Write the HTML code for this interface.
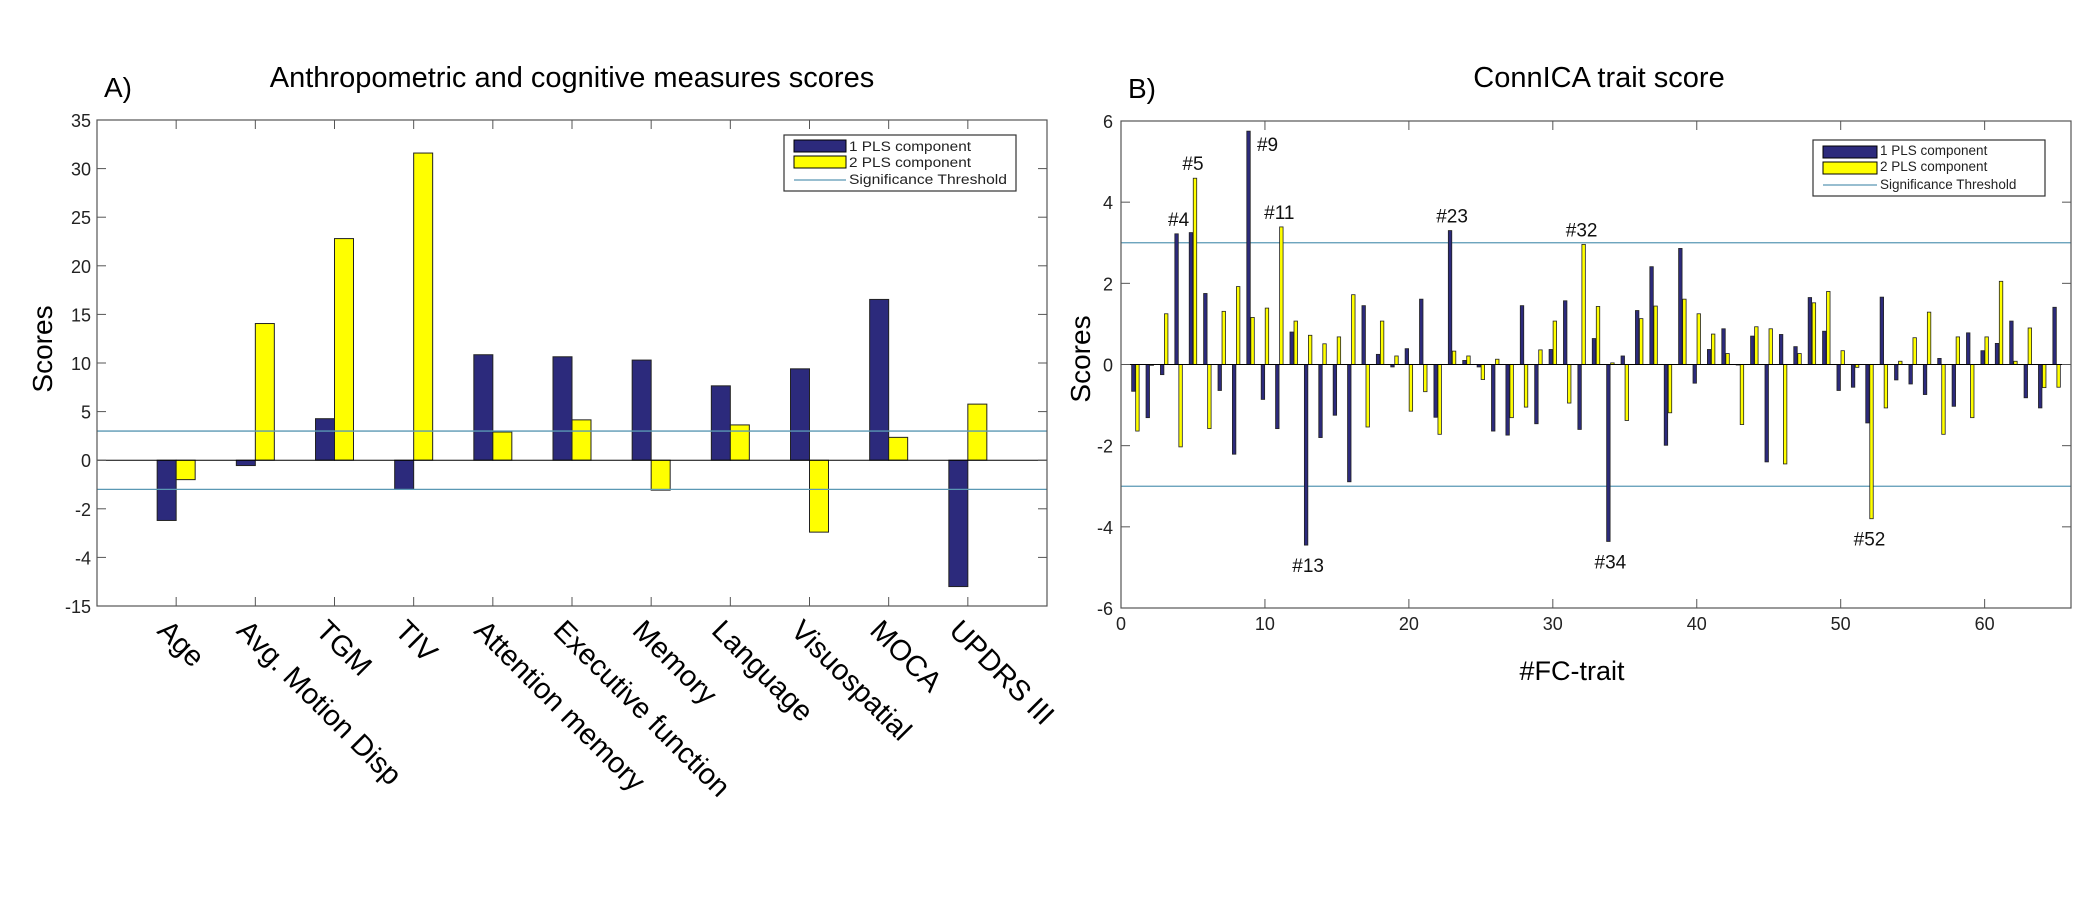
<!DOCTYPE html>
<html><head><meta charset="utf-8"><style>
html,body{margin:0;padding:0;background:#fff;}
svg{display:block;font-family:"Liberation Sans",sans-serif;}
</style></head><body>
<svg id="fig" width="2087" height="924" viewBox="0 0 2087 924" xmlns="http://www.w3.org/2000/svg">
<rect width="2087" height="924" fill="#fff"/>
<text x="104" y="97" font-size="28">A)</text>
<text x="572" y="87" font-size="29" text-anchor="middle">Anthropometric and cognitive measures scores</text>
<text x="1128" y="98" font-size="28">B)</text>
<text x="1599" y="87" font-size="29" text-anchor="middle">ConnICA trait score</text>
<text transform="translate(52,349) rotate(-90)" font-size="28" text-anchor="middle">Scores</text>
<text transform="translate(1090,359) rotate(-90)" font-size="28" text-anchor="middle">Scores</text>
<text x="1572" y="680" font-size="27" text-anchor="middle">#FC-trait</text>
<g id="left"></g>
<g id="right"></g>
</svg>
<script>
// ---------- Left chart data ----------
const leftCategories = ["Age","Avg. Motion Disp","TGM","TIV","Attention memory","Executive function","Memory","Language","Visuospatial","MOCA","UPDRS III"];
const leftComp1 = [-6.2,-0.55,4.27,-3.0,10.85,10.64,10.3,7.65,9.4,16.54,-13.0];
const leftComp2 = [-2.0,14.06,22.8,31.6,2.9,4.15,-3.08,3.63,-7.4,2.35,5.77];
const leftTickValues = [-15,-10,-5,0,5,10,15,20,25,30,35];
const leftTickLabels = ["-15","-4","-2","0","5","10","15","20","25","30","35"];
const leftThresholds = [3,-3];

// ---------- Right chart data ----------
const rightComp1 = [-0.66,-1.31,-0.25,3.22,3.25,1.75,-0.64,-2.21,5.75,-0.86,-1.58,0.80,-4.45,-1.80,-1.25,-2.89,1.45,0.25,-0.06,0.39,1.61,-1.30,3.30,0.10,-0.06,-1.64,-1.74,1.45,-1.46,0.37,1.57,-1.60,0.64,-4.36,0.21,1.33,2.41,-1.99,2.86,-0.46,0.37,0.88,0,0.70,-2.40,0.74,0.44,1.65,0.82,-0.64,-0.56,-1.44,1.66,-0.38,-0.48,-0.74,0.15,-1.03,0.78,0.34,0.52,1.07,-0.82,-1.07,1.41];
const rightComp2 = [-1.64,-0.02,1.25,-2.03,4.59,-1.58,1.31,1.92,1.16,1.39,3.39,1.07,0.72,0.51,0.68,1.72,-1.54,1.07,0.21,-1.15,-0.67,-1.72,0.33,0.21,-0.37,0.13,-1.31,-1.05,0.36,1.07,-0.95,2.96,1.43,0.04,-1.38,1.13,1.44,-1.19,1.61,1.25,0.75,0.27,-1.48,0.93,0.88,-2.45,0.27,1.52,1.80,0.34,-0.07,-3.80,-1.07,0.08,0.66,1.29,-1.72,0.68,-1.31,0.68,2.05,0.08,0.90,-0.57,-0.56];
const rightXTicks = [0,10,20,30,40,50,60];
const rightYTicks = [-6,-4,-2,0,2,4,6];
const rightThresholds = [3,-3];
const annotTraits = [4,5,9,11,13,23,32,34,52];
const annotLabels = ["#4","#5","#9","#11","#13","#23","#32","#34","#52"];

const NS="http://www.w3.org/2000/svg";
const BLUE="#2c2a7c", YEL="#ffff00", THR="#5a98b4";
function mk(parent,tag,attrs){const e=document.createElementNS(NS,tag);for(const k in attrs)e.setAttribute(k,attrs[k]);parent.appendChild(e);return e;}

// ---------- Left chart ----------
(function(){
  const g=document.getElementById('left');
  const L=97,R=1047,T=120,B=606, y0=-15,y1=35, xN=12;
  const X=v=>L+(R-L)*v/xN;
  const Y=v=>B-(B-T)*(v-y0)/(y1-y0);
  const bg=mk(g,'rect',{x:L,y:T,width:R-L,height:B-T,fill:'#fff'});
  
  
  leftCategories.forEach((c,i)=>{
    const cx=X(i+1), w=(R-L)/xN*0.24;
    [[leftComp1[i],-0.12,BLUE,'comp1'],[leftComp2[i],0.12,YEL,'comp2']].forEach(([v,off,col,nm])=>{
      const bx=cx+off*(R-L)/xN-w/2, ya=Y(Math.max(v,0)), yb=Y(Math.min(v,0));
      const r=mk(g,'rect',{x:bx,y:ya,width:w,height:Math.max(yb-ya,0.5),fill:col,stroke:'#222','stroke-width':1});
      
      
    });
    mk(g,'line',{x1:cx,y1:B,x2:cx,y2:B-9,stroke:'#555'});
    mk(g,'line',{x1:cx,y1:T,x2:cx,y2:T+9,stroke:'#555'});
    const t=mk(g,'text',{transform:`translate(${cx-6},${B+12}) rotate(45)`,'font-size':29,'dominant-baseline':'hanging'});
    t.textContent=c;
    
    
  });
  const z=mk(g,'line',{x1:L,y1:Y(0),x2:R,y2:Y(0),stroke:'#000','stroke-width':1});
  
  
  leftThresholds.forEach((v,i)=>{
    const l=mk(g,'line',{x1:L,y1:Y(v),x2:R,y2:Y(v),stroke:THR,'stroke-width':1.3});
    
    
  });
  leftTickValues.forEach((v,i)=>{
    mk(g,'line',{x1:L,y1:Y(v),x2:L+9,y2:Y(v),stroke:'#555'});
    mk(g,'line',{x1:R,y1:Y(v),x2:R-9,y2:Y(v),stroke:'#555'});
    const t=mk(g,'text',{x:L-6,y:Y(v)+7,'font-size':18,'text-anchor':'end',fill:'#222'});
    t.textContent=leftTickLabels[i];
    
    
  });
  const ax=mk(g,'rect',{x:L,y:T,width:R-L,height:B-T,fill:'none',stroke:'#555','stroke-width':1.2});
  
  
  const lg=mk(g,'g',{});
  
  
  mk(lg,'rect',{x:784,y:135,width:232,height:56,fill:'#fff',stroke:'#333','stroke-width':1.2});
  mk(lg,'rect',{x:794,y:140,width:52,height:12,fill:BLUE,stroke:'#000'});
  mk(lg,'rect',{x:794,y:156,width:52,height:12,fill:YEL,stroke:'#000'});
  mk(lg,'line',{x1:794,y1:180,x2:846,y2:180,stroke:THR,'stroke-width':1.3});
  [['1 PLS component',151],['2 PLS component',167],['Significance Threshold',184]].forEach(([s,y],i)=>{
    const t=mk(lg,'text',{x:849,y:y,'font-size':13.5,fill:'#222',textLength:i==2?158:122,lengthAdjust:'spacingAndGlyphs'});
    t.textContent=s;
    
    
  });
})();

// ---------- Right chart ----------
(function(){
  const g=document.getElementById('right');
  const L=1121,R=2071,T=121,B=608, x0=0,x1=66, y0=-6,y1=6;
  const X=v=>L+(R-L)*(v-x0)/(x1-x0);
  const Y=v=>B-(B-T)*(v-y0)/(y1-y0);
  const u=(R-L)/(x1-x0);
  rightThresholds.forEach((v,i)=>{
    const l=mk(g,'line',{x1:L,y1:Y(v),x2:R,y2:Y(v),stroke:THR,'stroke-width':1.3});
    
    
  });
  rightComp1.forEach((v1,i)=>{
    const idx=i+1, w=u*0.24;
    [[v1,-0.14,BLUE,'comp1'],[rightComp2[i],0.14,YEL,'comp2']].forEach(([v,off,col,nm])=>{
      const bx=X(idx+off)-w/2, ya=Y(Math.max(v,0)), yb=Y(Math.min(v,0));
      const r=mk(g,'rect',{x:bx,y:ya,width:w,height:Math.max(yb-ya,0.5),fill:col,stroke:'#222','stroke-width':0.8});
      
      
    });
  });
  const z=mk(g,'line',{x1:L,y1:Y(0),x2:R,y2:Y(0),stroke:'#000','stroke-width':1});
  
  
  rightXTicks.forEach(v=>{
    mk(g,'line',{x1:X(v),y1:B,x2:X(v),y2:B-9,stroke:'#555'});
    mk(g,'line',{x1:X(v),y1:T,x2:X(v),y2:T+9,stroke:'#555'});
    const t=mk(g,'text',{x:X(v),y:B+22,'font-size':18,'text-anchor':'middle',fill:'#222'});
    t.textContent=String(v);
    
    
  });
  rightYTicks.forEach(v=>{
    mk(g,'line',{x1:L,y1:Y(v),x2:L+9,y2:Y(v),stroke:'#555'});
    mk(g,'line',{x1:R,y1:Y(v),x2:R-9,y2:Y(v),stroke:'#555'});
    const t=mk(g,'text',{x:L-8,y:Y(v)+7,'font-size':18,'text-anchor':'end',fill:'#222'});
    t.textContent=String(v);
    
    
  });
  const ax=mk(g,'rect',{x:L,y:T,width:R-L,height:B-T,fill:'none',stroke:'#555','stroke-width':1.2});
  
  
  annotTraits.forEach((tr,i)=>{
    const a=rightComp1[tr-1], b=rightComp2[tr-1];
    const v=Math.abs(a)>=Math.abs(b)?a:b;
    let x=X(tr), y;
    if(v>=0){y=Y(v)-8;} else {y=Y(v)+27;}
    if(tr===9){x=X(tr)+17;y=Y(v)+20;}
    const t=mk(g,'text',{x:x,y:y,'font-size':19,'text-anchor':'middle',fill:'#111'});
    t.textContent=annotLabels[i];
    
    
  });
  const lg=mk(g,'g',{});
  
  
  mk(lg,'rect',{x:1813,y:140,width:232,height:56,fill:'#fff',stroke:'#333','stroke-width':1.2});
  mk(lg,'rect',{x:1823,y:146,width:54,height:12,fill:BLUE,stroke:'#000'});
  mk(lg,'rect',{x:1823,y:162,width:54,height:12,fill:YEL,stroke:'#000'});
  mk(lg,'line',{x1:1823,y1:185,x2:1877,y2:185,stroke:THR,'stroke-width':1.3});
  [['1 PLS component',155],['2 PLS component',171],['Significance Threshold',189]].forEach(([s,y],i)=>{
    const t=mk(lg,'text',{x:1880,y:y,'font-size':13.5,fill:'#222'});
    t.textContent=s;
    
    
  });
})();
</script>
</body></html>
